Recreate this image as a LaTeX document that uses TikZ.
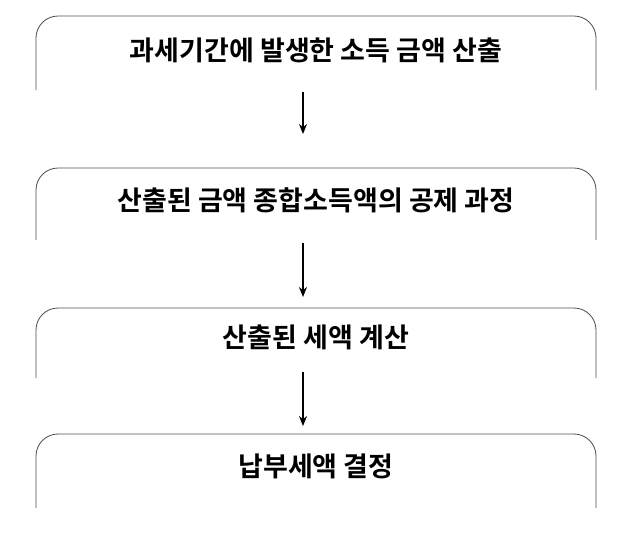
\documentclass[tikz,border=0pt]{standalone}
\usepackage{fontspec}
\newfontfamily\kr{Noto Sans CJK KR}[BoldFont={* Bold}]
\usetikzlibrary{arrows.meta}
\tikzset{
  lbl/.style={font=\kr\bfseries\fontsize{27}{32}\selectfont, inner sep=0pt},
  frame/.style={draw=black!70, line width=0.8pt, rounded corners=22pt},
  arr/.style={-{Stealth[length=10pt,width=8pt]}, line width=1.2pt}
}
\newcommand{\openbox}[2]{%
  \draw[frame] (36,#2) -- (36,#1) -- (596,#1) -- (596,#2);}
\begin{document}
\begin{tikzpicture}[x=1pt,y=-1pt]
\useasboundingbox (0,0) rectangle (627,539);
\openbox{16}{90}
\openbox{168}{240}
\openbox{308}{378}
\openbox{434}{508}
\node[lbl] (t1) at (316,50) {과세기간에 발생한 소득 금액 산출};
\node[lbl] (t2) at (316,200) {산출된 금액 종합소득액의 공제 과정};
\node[lbl] (t3) at (316,337) {산출된 세액 계산};
\node[lbl] (t4) at (316,466) {납부세액 결정};
\coordinate (a1) at (303,92); \coordinate (b1) at (303,134);
\coordinate (a2) at (303,243); \coordinate (b2) at (303,297);
\coordinate (a3) at (303,372); \coordinate (b3) at (303,426);
\draw[arr] (a1) -- (b1);
\draw[arr] (a2) -- (b2);
\draw[arr] (a3) -- (b3);
\end{tikzpicture}
\end{document}
